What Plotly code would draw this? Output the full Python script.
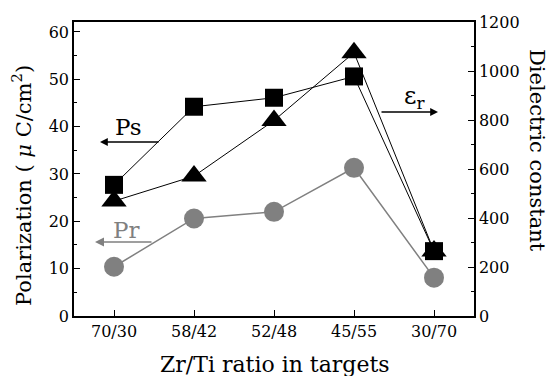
import plotly.graph_objects as go

categories = ["70/30", "58/42", "52/48", "45/55", "30/70"]
ps_values = [27.7, 44.2, 46.1, 50.6, 13.7]          # Ps, left axis (μC/cm²)
pr_values = [10.4, 20.6, 22.0, 31.3, 8.1]           # Pr, left axis (μC/cm²)
er_values = [469, 571, 798, 1075, 265]              # εr, right axis

FONT = "DejaVu Serif"
GRAY = "#808080"

fig = go.Figure()
fig.add_trace(go.Scatter(x=categories, y=pr_values, mode="lines+markers",
                         line=dict(color=GRAY, width=1.5),
                         marker=dict(symbol="circle", size=20, color=GRAY),
                         showlegend=False, yaxis="y"))
fig.add_trace(go.Scatter(x=categories, y=er_values, mode="lines+markers",
                         line=dict(color="black", width=1),
                         marker=dict(symbol="triangle-up", size=22, color="black"),
                         showlegend=False, yaxis="y2"))
fig.add_trace(go.Scatter(x=categories, y=ps_values, mode="lines+markers",
                         line=dict(color="black", width=1),
                         marker=dict(symbol="square", size=18, color="black"),
                         showlegend=False, yaxis="y"))

W, H = 555, 376
L, R, T, B = 74, 81, 22, 60
pw, ph = W - L - R, H - T - B

def px(x):
    return (x - L) / pw

def py(y):
    return (H - B - y) / ph

def label(text, x, y, size, color="black", angle=0):
    return dict(text=text, x=px(x), y=py(y), xref="paper", yref="paper",
                xanchor="center", yanchor="middle", showarrow=False,
                textangle=angle, font=dict(family=FONT, size=size, color=color))

def arrow(x_head, y_head, dx, color, width):
    return dict(text="", x=px(x_head), y=py(y_head), xref="paper", yref="paper",
                ax=dx, ay=0, showarrow=True, arrowhead=2, arrowsize=1.2,
                arrowwidth=width, arrowcolor=color)

annotations = [
    label("Ps", 128, 127, 23),
    arrow(100, 142, 60, "black", 1.3),
    label("Pr", 126, 230, 23, GRAY),
    arrow(95, 242, 58, GRAY, 1.5),
    label("ε<sub>r</sub>", 414, 98, 24),
    arrow(438, 112, -58, "black", 1.3),
    label("Polarization ( <i>μ</i> C/cm<sup>2</sup>)", 22, 186, 21, angle=-90),
    label("Dielectric constant", 537, 150, 21, angle=90),
    label("Zr/Ti ratio in targets", 275, 364, 22),
]

fig.update_layout(
    width=W, height=H,
    margin=dict(l=L, r=R, t=T, b=B),
    paper_bgcolor="white", plot_bgcolor="white",
    font=dict(family=FONT, size=16, color="black"),
    annotations=annotations,
    xaxis=dict(type="category", range=[-0.5, 4.5], showline=True, linecolor="black",
               linewidth=1.5, mirror=True, ticks="inside", ticklen=6, tickcolor="black",
               showgrid=False, zeroline=False, tickfont=dict(family=FONT, size=16)),
    yaxis=dict(range=[0, 62.1], tickvals=[0, 10, 20, 30, 40, 50, 60], showline=True,
               linecolor="black", linewidth=1.5, ticks="inside", ticklen=6,
               tickcolor="black", showgrid=False, zeroline=False,
               minor=dict(dtick=5, ticks="inside", ticklen=3, tickcolor="black"),
               tickfont=dict(family=FONT, size=16)),
    yaxis2=dict(range=[0, 1200], tickvals=[0, 200, 400, 600, 800, 1000, 1200],
                overlaying="y", side="right", showline=True, linecolor="black",
                linewidth=1.5, ticks="inside", ticklen=6, tickcolor="black",
                showgrid=False, zeroline=False,
                minor=dict(dtick=100, ticks="inside", ticklen=3, tickcolor="black"),
                tickfont=dict(family=FONT, size=16)),
)

fig.write_html("out.html", config={"displayModeBar": False},
               post_script="document.body.style.margin='0';")
